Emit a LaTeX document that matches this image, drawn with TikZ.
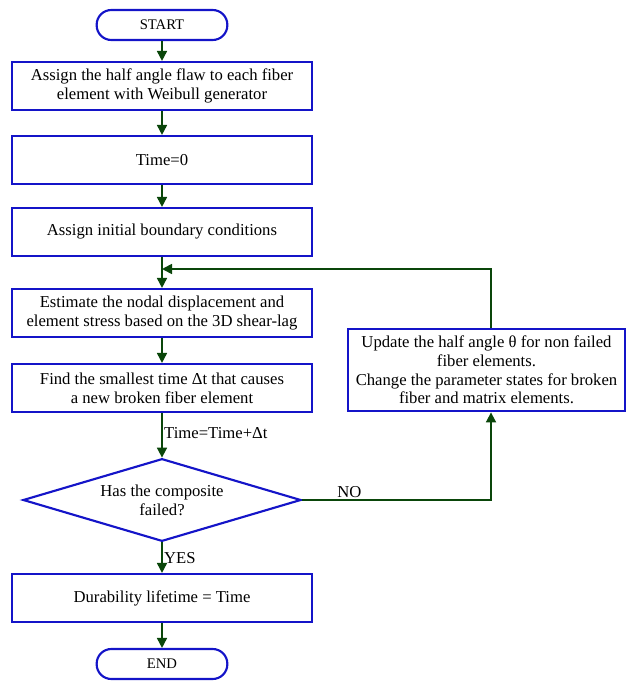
\documentclass[tikz,border=0pt]{standalone}
\usepackage{fontspec}
\setmainfont{Liberation Serif}
\usepackage{tikz}
\usetikzlibrary{shapes.geometric, arrows.meta, positioning, calc}
\definecolor{boxblue}{RGB}{20,20,200}
\definecolor{flowgreen}{RGB}{10,70,10}

\begin{document}
\begin{tikzpicture}[x=0.75pt, y=-0.75pt,
  procbox/.style={rectangle, draw=boxblue, line width=1.6pt, fill=white, minimum width=225pt, minimum height=36pt, font=\fontsize{12.5}{14}\selectfont, align=center, inner sep=2pt},
  termbox/.style={rectangle, draw=boxblue, line width=1.6pt, rounded corners=11pt, minimum width=98pt, minimum height=22.5pt, font=\fontsize{11}{13}\selectfont},
  decbox/.style={diamond, draw=boxblue, line width=1.6pt, aspect=3.3, inner sep=0pt, minimum width=208.5pt, minimum height=62pt, font=\fontsize{12.5}{14}\selectfont, align=center},
  flow/.style={draw=flowgreen, line width=1.3pt, -{Triangle[length=7.5pt, width=7.5pt]}},
  flowlabel/.style={font=\fontsize{12.5}{14}\selectfont, inner sep=1pt},
]
\useasboundingbox (0,0) rectangle (626,684);

\node[termbox] (start) at (162,25) {START};
\node[procbox] (weib) at (162,86) {Assign the half angle flaw to each fiber\\element with Weibull generator};
\node[procbox] (time0) at (162,160) {Time=0};
\node[procbox] (bound) at (162,232) {Assign initial boundary conditions};
\node[procbox] (nodal) at (162,313) {Estimate the nodal displacement and\\element stress based on the 3D shear-lag};
\node[procbox] (small) at (162,388) {Find the smallest time Δt that causes\\a new broken fiber element};
\node[decbox] (fail) at (162,500) {Has the composite\\failed?};
\node[procbox] (life) at (162,598) {Durability lifetime = Time};
\node[termbox] (end) at (162,664) {END};
\node[procbox, minimum width=207.5pt, minimum height=62pt] (upd) at (486.5,370) {Update the half angle θ for non failed\\fiber elements.\\Change the parameter states for broken\\fiber and matrix elements.};

\coordinate (merge) at (162,269);
\coordinate (loopbot) at (491,500);
\coordinate (looptop) at (491,269);

\draw[flow] (start) -- (weib);
\draw[flow] (weib) -- (time0);
\draw[flow] (time0) -- (bound);
\draw[flow] (bound) -- (nodal);
\draw[flow] (nodal) -- (small);
\draw[flow] (small) -- node[flowlabel, right, pos=0.45] {Time=Time+Δt} (fail);
\draw[flow] (fail) -- node[flowlabel, right, pos=0.5] {YES} (life);
\draw[flow] (life) -- (end);
% loop back on failure check
\draw[flow] (fail.east) -- node[flowlabel, above, pos=0.25] {NO} (loopbot) -- (upd.south -| loopbot);
\draw[flow] (upd.north -| looptop) -- (looptop) -- (merge);
\end{tikzpicture}
\end{document}
